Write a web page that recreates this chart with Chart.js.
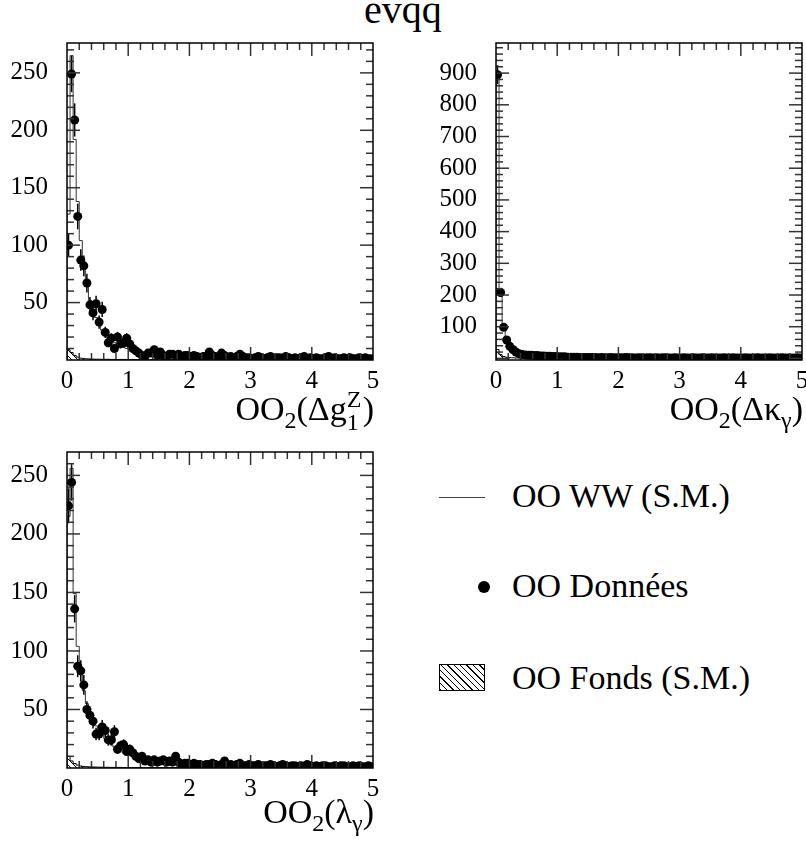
<!DOCTYPE html>
<html>
<head>
<meta charset="utf-8">
<script src="https://cdn.jsdelivr.net/npm/chart.js@4.4.1/dist/chart.umd.min.js"></script>
<style>
  body { margin: 0; width: 806px; height: 850px; overflow: hidden; background: #fff; position: relative;
         font-family: 'Liberation Serif', 'Times New Roman', serif; color: #000; }
  canvas { position: absolute; }
  .txt { position: absolute; white-space: nowrap; font-size: 34px; line-height: 40px; }
  .sub { font-size: 24px; line-height: 1; vertical-align: -8px; }
  .stack { display: inline-block; position: relative; width: 16px; height: 24px; }
  .stack .up { position: absolute; left: 0; top: -9px; font-size: 24px; line-height: 1; }
  .stack .dn { position: absolute; left: 0; top: 14px; font-size: 24px; line-height: 1; }
</style>
</head>
<body>
<div class="txt" style="left:0;width:806px;top:-14px;text-align:center;font-size:40px;line-height:48px;">evqq</div>

<canvas id="panelG1" width="403" height="400" style="left:0;top:0;"></canvas>
<canvas id="panelK" width="430" height="400" style="left:403px;top:0;"></canvas>
<canvas id="panelL" width="403" height="400" style="left:0;top:403px;"></canvas>

<div class="txt" style="left:0;width:374px;top:389px;text-align:right;">OO<span class="sub">2</span>(Δg<span class="stack"><span class="up">Z</span><span class="dn">1</span></span>)</div>
<div class="txt" style="left:403px;width:400px;top:389px;text-align:right;">OO<span class="sub">2</span>(Δκ<span class="sub">γ</span>)</div>
<div class="txt" style="left:0;width:374px;top:792px;text-align:right;">OO<span class="sub">2</span>(λ<span class="sub">γ</span>)</div>

<div style="position:absolute;left:439px;top:497px;width:46px;height:1px;background:#444;"></div>
<div class="txt" style="left:512px;top:476px;">OO WW (S.M.)</div>
<div style="position:absolute;left:478px;top:581px;width:12px;height:12px;border-radius:50%;background:#000;"></div>
<div class="txt" style="left:512px;top:566px;">OO Données</div>
<div style="position:absolute;left:439px;top:664px;width:44px;height:25px;border:1px solid #000;
            background:repeating-linear-gradient(45deg,#000 0,#000 1px,#fff 1px,#fff 4.5px);"></div>
<div class="txt" style="left:512px;top:658px;">OO Fonds (S.M.)</div>

<script>
// 100 bins of width 0.05 from 0 to 5
const binWidth = 0.05;
const xTicks = [0, 1, 2, 3, 4, 5];

const dg1zData = [100, 249, 209, 125, 87, 82, 67, 48, 41, 49,
  33, 44, 24, 15, 19, 10, 20, 14, 15, 19,
  14, 10, 8, 6, 4, 3, 6, 6, 9, 4,
  7, 4, 3, 5, 5, 4, 5, 3, 4, 4,
  3, 4, 3, 2, 3, 3, 7, 4, 3, 2,
  6, 4, 2, 3, 2, 3, 5, 3, 2, 2,
  1, 2, 3, 2, 1, 2, 3, 1, 2, 2,
  1, 3, 2, 1, 2, 1, 2, 3, 1, 2,
  1, 2, 1, 1, 2, 3, 1, 2, 1, 1,
  2, 1, 2, 1, 1, 2, 1, 2, 1, 1];
const dg1zMC = [127, 265, 192, 138, 104, 80, 64, 52, 44, 37,
  31, 26, 22, 19, 17, 15, 13, 12, 11, 10,
  9.2, 8.5, 7.9, 7.3, 6.8, 6.3, 5.9, 5.5, 5.2, 4.9,
  4.6, 4.4, 4.2, 4.0, 3.8, 3.6, 3.5, 3.4, 3.3, 3.2,
  3.1, 3.0, 2.9, 2.8, 2.7, 2.6, 2.5, 2.4, 2.4, 2.3,
  2.2, 2.2, 2.1, 2.0, 2.0, 1.9, 1.9, 1.8, 1.8, 1.7,
  1.7, 1.6, 1.6, 1.6, 1.5, 1.5, 1.5, 1.4, 1.4, 1.4,
  1.3, 1.3, 1.3, 1.3, 1.2, 1.2, 1.2, 1.2, 1.1, 1.1,
  1.1, 1.1, 1.0, 1.0, 1.0, 1.0, 1.0, 0.9, 0.9, 0.9,
  0.9, 0.9, 0.9, 0.8, 0.8, 0.8, 0.8, 0.8, 0.8, 0.8];
const dg1zBkg = [9, 6.5, 4, 2.5, 1.6, 1.2, 1.0, 0.9, 0.8, 0.7,
  0.7, 0.6, 0.6, 0.6, 0.5, 0.5, 0.5, 0.5, 0.5, 0.4,
  0.4, 0.4, 0.4, 0.4, 0.4, 0.4, 0.4, 0.4, 0.3, 0.3,
  0.3, 0.3, 0.3, 0.3, 0.3, 0.3, 0.3, 0.3, 0.3, 0.3,
  0.3, 0.3, 0.3, 0.3, 0.3, 0.3, 0.3, 0.3, 0.3, 0.3,
  0.2, 0.2, 0.2, 0.2, 0.2, 0.2, 0.2, 0.2, 0.2, 0.2,
  0.2, 0.2, 0.2, 0.2, 0.2, 0.2, 0.2, 0.2, 0.2, 0.2,
  0.2, 0.2, 0.2, 0.2, 0.2, 0.2, 0.2, 0.2, 0.2, 0.2,
  0.2, 0.2, 0.2, 0.2, 0.2, 0.2, 0.2, 0.2, 0.2, 0.2,
  0.2, 0.2, 0.2, 0.2, 0.2, 0.2, 0.2, 0.2, 0.2, 0.2];
const dg1zYTicks = [50, 100, 150, 200, 250];

const dkData = [895, 208, 98, 58, 38, 28, 20, 15, 12, 11,
  10, 10, 9, 9, 8, 8, 7, 7, 6, 6,
  5, 5, 5, 4, 4, 4, 4, 3, 3, 3,
  3, 3, 3, 2, 3, 2, 2, 3, 2, 2,
  2, 2, 3, 2, 2, 1, 2, 2, 1, 2,
  2, 1, 2, 1, 2, 2, 1, 1, 2, 1,
  1, 2, 1, 1, 2, 1, 1, 2, 1, 1,
  2, 1, 1, 1, 2, 1, 1, 2, 1, 1,
  1, 2, 1, 1, 1, 2, 1, 1, 1, 2,
  1, 1, 1, 2, 1, 1, 1, 1, 2, 1];
const dkMC = [902, 212, 100, 58, 38, 27, 20, 15, 12, 11,
  10, 9.5, 9, 8.5, 8, 7.5, 7, 6.5, 6, 5.8,
  5.5, 5.2, 5.0, 4.7, 4.5, 4.3, 4.1, 3.9, 3.7, 3.5,
  3.4, 3.3, 3.2, 3.1, 3.0, 2.9, 2.8, 2.7, 2.6, 2.5,
  2.4, 2.4, 2.3, 2.3, 2.2, 2.2, 2.1, 2.1, 2.0, 2.0,
  1.9, 1.9, 1.8, 1.8, 1.8, 1.7, 1.7, 1.7, 1.6, 1.6,
  1.6, 1.5, 1.5, 1.5, 1.5, 1.4, 1.4, 1.4, 1.4, 1.3,
  1.3, 1.3, 1.3, 1.3, 1.2, 1.2, 1.2, 1.2, 1.2, 1.1,
  1.1, 1.1, 1.1, 1.1, 1.1, 1.0, 1.0, 1.0, 1.0, 1.0,
  1.0, 1.0, 0.9, 0.9, 0.9, 0.9, 0.9, 0.9, 0.9, 0.9];
const dkBkg = [28, 12, 6, 3.5, 2.5, 2, 1.6, 1.3, 1.1, 1.0,
  0.9, 0.8, 0.8, 0.7, 0.7, 0.6, 0.6, 0.6, 0.5, 0.5,
  0.5, 0.5, 0.5, 0.4, 0.4, 0.4, 0.4, 0.4, 0.4, 0.4,
  0.3, 0.3, 0.3, 0.3, 0.3, 0.3, 0.3, 0.3, 0.3, 0.3,
  0.3, 0.3, 0.3, 0.3, 0.3, 0.3, 0.3, 0.3, 0.3, 0.3,
  0.2, 0.2, 0.2, 0.2, 0.2, 0.2, 0.2, 0.2, 0.2, 0.2,
  0.2, 0.2, 0.2, 0.2, 0.2, 0.2, 0.2, 0.2, 0.2, 0.2,
  0.2, 0.2, 0.2, 0.2, 0.2, 0.2, 0.2, 0.2, 0.2, 0.2,
  0.2, 0.2, 0.2, 0.2, 0.2, 0.2, 0.2, 0.2, 0.2, 0.2,
  0.2, 0.2, 0.2, 0.2, 0.2, 0.2, 0.2, 0.2, 0.2, 0.2];
const dkYTicks = [100, 200, 300, 400, 500, 600, 700, 800, 900];

const lgData = [224, 244, 136, 87, 83, 71, 50, 45, 40, 29,
  29, 35, 32, 24, 24, 31, 16, 19, 20, 14,
  16, 13, 10, 8, 10, 6, 7, 5, 7, 5,
  6, 7, 5, 6, 5, 10, 5, 3, 4, 4,
  3, 4, 3, 3, 2, 3, 3, 4, 3, 2,
  3, 6, 2, 3, 2, 3, 4, 2, 2, 3,
  2, 2, 3, 1, 2, 2, 3, 2, 1, 2,
  3, 2, 1, 2, 2, 1, 2, 1, 3, 2,
  1, 2, 1, 2, 2, 1, 1, 2, 1, 2,
  2, 1, 1, 2, 1, 2, 1, 1, 2, 1];
const lgMC = [215, 256, 149, 104, 81, 66, 55, 47, 41, 36,
  32, 28, 25, 22, 20, 18, 16, 15, 13, 12,
  11, 10, 9.5, 9.0, 8.5, 8.0, 7.5, 7.0, 6.6, 6.2,
  5.8, 5.5, 5.2, 4.9, 4.6, 4.4, 4.2, 4.0, 3.8, 3.6,
  3.5, 3.4, 3.3, 3.2, 3.1, 3.0, 2.9, 2.8, 2.7, 2.6,
  2.5, 2.4, 2.4, 2.3, 2.2, 2.2, 2.1, 2.0, 2.0, 1.9,
  1.9, 1.8, 1.8, 1.7, 1.7, 1.6, 1.6, 1.6, 1.5, 1.5,
  1.5, 1.4, 1.4, 1.4, 1.3, 1.3, 1.3, 1.3, 1.2, 1.2,
  1.2, 1.2, 1.1, 1.1, 1.1, 1.1, 1.0, 1.0, 1.0, 1.0,
  1.0, 0.9, 0.9, 0.9, 0.9, 0.9, 0.9, 0.8, 0.8, 0.8];
const lgBkg = [10, 6, 3.8, 2.5, 1.7, 1.3, 1.1, 1.0, 0.9, 0.8,
  0.7, 0.7, 0.6, 0.6, 0.5, 0.5, 0.5, 0.5, 0.4, 0.4,
  0.4, 0.4, 0.4, 0.4, 0.4, 0.3, 0.3, 0.3, 0.3, 0.3,
  0.3, 0.3, 0.3, 0.3, 0.3, 0.3, 0.3, 0.3, 0.3, 0.3,
  0.3, 0.3, 0.3, 0.3, 0.3, 0.3, 0.3, 0.3, 0.3, 0.3,
  0.2, 0.2, 0.2, 0.2, 0.2, 0.2, 0.2, 0.2, 0.2, 0.2,
  0.2, 0.2, 0.2, 0.2, 0.2, 0.2, 0.2, 0.2, 0.2, 0.2,
  0.2, 0.2, 0.2, 0.2, 0.2, 0.2, 0.2, 0.2, 0.2, 0.2,
  0.2, 0.2, 0.2, 0.2, 0.2, 0.2, 0.2, 0.2, 0.2, 0.2,
  0.2, 0.2, 0.2, 0.2, 0.2, 0.2, 0.2, 0.2, 0.2, 0.2];
const lgYTicks = [50, 100, 150, 200, 250];

Chart.defaults.font.family = "'Liberation Serif', 'Times New Roman', serif";
Chart.defaults.color = '#000';

function toPoints(values) {
  return values.map((v, i) => ({ x: (i + 0.5) * binWidth, y: v }));
}

function toSteps(values) {
  const pts = [{ x: 0, y: 0 }];
  values.forEach((v, i) => pts.push({ x: i * binWidth, y: v }));
  pts.push({ x: values.length * binWidth, y: values[values.length - 1] });
  pts.push({ x: values.length * binWidth, y: 0 });
  return pts;
}

function hatchPattern() {
  const c = document.createElement('canvas');
  c.width = 6; c.height = 6;
  const g = c.getContext('2d');
  g.strokeStyle = '#000';
  g.lineWidth = 1;
  g.beginPath();
  g.moveTo(0, 0); g.lineTo(6, 6);
  g.moveTo(-3, 3); g.lineTo(3, 9);
  g.moveTo(3, -3); g.lineTo(9, 3);
  g.stroke();
  return g.createPattern(c, 'repeat');
}

// frame, inward ticks on all four sides and sqrt(N) error bars
const frameTicks = {
  id: 'frameTicks',
  afterDatasetsDraw(chart) {
    const o = chart.options.plugins.frameTicks;
    const { ctx, chartArea: a, scales: { x, y } } = chart;

    ctx.save();
    ctx.beginPath();
    ctx.rect(a.left, a.top, a.width, a.height);
    ctx.clip();
    ctx.strokeStyle = '#000';
    ctx.lineWidth = 1.5;
    chart.data.datasets[0].data.forEach(p => {
      const e = Math.sqrt(p.y);
      const px = x.getPixelForValue(p.x);
      ctx.beginPath();
      ctx.moveTo(px, y.getPixelForValue(p.y + e));
      ctx.lineTo(px, y.getPixelForValue(p.y - e));
      ctx.stroke();
    });
    ctx.restore();

    ctx.save();
    ctx.strokeStyle = '#333';
    ctx.lineWidth = 1.5;
    const line = (x1, y1, x2, y2) => {
      ctx.beginPath(); ctx.moveTo(x1, y1); ctx.lineTo(x2, y2); ctx.stroke();
    };
    for (let i = 1; i < 25; i++) {
      const px = x.getPixelForValue(i * 0.2);
      const len = i % 5 === 0 ? 13 : 7;
      line(px, a.bottom, px, a.bottom - len);
      line(px, a.top, px, a.top + len);
    }
    const start = Math.ceil(y.min / o.yMinor) * o.yMinor;
    for (let v = start; v < y.max; v += o.yMinor) {
      if (v <= y.min) continue;
      const py = y.getPixelForValue(v);
      const len = v % o.yMajor === 0 ? 13 : 7;
      line(a.left, py, a.left + len, py);
      line(a.right, py, a.right - len, py);
    }
    ctx.strokeStyle = '#000';
    ctx.strokeRect(a.left, a.top, a.width, a.height);
    ctx.restore();
  }
};

function drawPanel(canvasId, data, mc, bkg, cfg) {
  const ctx = document.getElementById(canvasId);

  new Chart(ctx, {
    type: 'scatter',
    data: {
      datasets: [{
        type: 'scatter',
        label: 'OO Données',
        data: toPoints(data),
        pointRadius: 4.5,
        pointBackgroundColor: '#000',
        pointBorderWidth: 0,
        order: 0
      }, {
        type: 'line',
        label: 'OO WW (S.M.)',
        data: toSteps(mc),
        stepped: 'before',
        borderColor: '#333',
        borderWidth: 1,
        pointRadius: 0,
        fill: false,
        order: 1
      }, {
        type: 'line',
        label: 'OO Fonds (S.M.)',
        data: toSteps(bkg),
        stepped: 'before',
        borderColor: '#000',
        borderWidth: 1,
        pointRadius: 0,
        fill: 'origin',
        backgroundColor: hatchPattern(),
        order: 2
      }]
    },
    options: {
      responsive: false,
      animation: false,
      layout: { padding: cfg.padding },
      plugins: {
        legend: { display: false },
        tooltip: { enabled: false },
        frameTicks: { yMajor: cfg.yMajor, yMinor: cfg.yMinor }
      },
      scales: {
        x: {
          type: 'linear',
          min: 0,
          max: 5,
          grid: { display: false, drawTicks: false },
          border: { display: false },
          ticks: { padding: 6, maxRotation: 0, font: { size: 25 } },
          afterBuildTicks: s => { s.ticks = xTicks.map(v => ({ value: v })); },
          afterFit: s => { s.height = cfg.xHeight; }
        },
        y: {
          type: 'linear',
          min: cfg.yMin,
          max: cfg.yMax,
          grid: { display: false, drawTicks: false },
          border: { display: false },
          ticks: { padding: 19, font: { size: 25 } },
          afterBuildTicks: s => { s.ticks = cfg.yTicks.map(v => ({ value: v })); },
          afterFit: s => { s.width = cfg.yWidth; }
        }
      }
    },
    plugins: [frameTicks]
  });
}

drawPanel('panelG1', dg1zData, dg1zMC, dg1zBkg, {
  yMin: 0, yMax: 276, yTicks: dg1zYTicks, yMajor: 50, yMinor: 10,
  padding: { top: 43, right: 30, bottom: 0, left: 0 }, yWidth: 67, xHeight: 40
});
drawPanel('panelK', dkData, dkMC, dkBkg, {
  yMin: -5, yMax: 995, yTicks: dkYTicks, yMajor: 100, yMinor: 20,
  padding: { top: 43, right: 31, bottom: 0, left: 0 }, yWidth: 93, xHeight: 40
});
drawPanel('panelL', lgData, lgMC, lgBkg, {
  yMin: 0, yMax: 270, yTicks: lgYTicks, yMajor: 50, yMinor: 10,
  padding: { top: 49, right: 30, bottom: 0, left: 0 }, yWidth: 67, xHeight: 35
});
</script>
</body>
</html>
